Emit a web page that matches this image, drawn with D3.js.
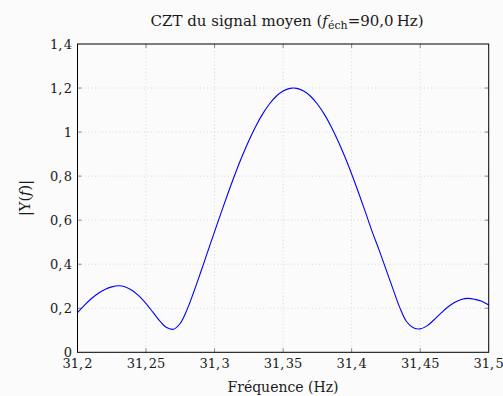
<!DOCTYPE html>
<html><head><meta charset="utf-8">
<script src="https://cdn.jsdelivr.net/npm/d3@7"></script>
<style>
html,body{margin:0;padding:0;background:#fbfbfb;}
svg{display:block;}
text{font-family:"DejaVu Serif","Liberation Serif",serif;fill:#1a1a1a;}
</style></head><body>
<svg id="c" width="503" height="396"></svg>
<script>
const freqs = [31.200,31.205,31.210,31.215,31.220,31.225,31.230,31.235,31.240,31.245,
31.250,31.255,31.260,31.265,31.270,31.275,31.280,31.285,31.290,31.295,
31.300,31.305,31.310,31.315,31.320,31.325,31.330,31.335,31.340,31.345,
31.350,31.355,31.360,31.365,31.370,31.375,31.380,31.385,31.390,31.395,
31.400,31.405,31.410,31.415,31.420,31.425,31.430,31.435,31.440,31.445,
31.450,31.455,31.460,31.465,31.470,31.475,31.480,31.485,31.490,31.495,31.500];
const magnitudes = [0.180,0.213,0.243,0.267,0.285,0.297,0.302,0.2965,0.2805,0.2548,
0.221,0.1822,0.1427,0.1123,0.105,0.132,0.195,0.277,0.366,0.4569,
0.5478,0.6378,0.7255,0.8097,0.8888,0.9611,1.0259,1.0814,1.1275,1.1627,
1.1865,1.1985,1.1985,1.1865,1.1627,1.1275,1.0814,1.0259,0.9611,0.8888,
0.8097,0.7255,0.6378,0.5478,0.465,0.378,0.290,0.205,0.140,0.112,
0.1064,0.120,0.1466,0.1766,0.2044,0.2262,0.2401,0.245,0.2405,0.232,0.215];
const xTicks = [31.2,31.25,31.3,31.35,31.4,31.45,31.5];
const yTicks = [0,0.2,0.4,0.6,0.8,1,1.2,1.4];
const titleMain = "CZT du signal moyen (";
const titleF = "f";
const titleSub = "éch";
const titleEnd = "=90,0\u2009Hz)";
const xLabel = "Fréquence (Hz)";
const yLabelParts = ["|Y(", "f", ")|"];

const L=77.5, R=488.7, T=44, B=352.3;
const svg = d3.select("#c");
const x = d3.scaleLinear().domain([31.2,31.5]).range([L,R]);
const y = d3.scaleLinear().domain([0,1.4]).range([B,T]);
const fmt = v => String(+v.toFixed(2)).replace(".", ",\u200A");

const g = svg.append("g");
// grid
g.selectAll(".gx").data(xTicks.slice(1,-1)).enter().append("line")
 .attr("x1",d=>x(d)).attr("x2",d=>x(d)).attr("y1",T).attr("y2",B)
 .attr("stroke","#d0d0d0").attr("stroke-width",0.8).attr("stroke-dasharray","1,2.5");
g.selectAll(".gy").data(yTicks.slice(1,-1)).enter().append("line")
 .attr("y1",d=>y(d)).attr("y2",d=>y(d)).attr("x1",L).attr("x2",R)
 .attr("stroke","#d0d0d0").attr("stroke-width",0.8).attr("stroke-dasharray","1,2.5");

// inward ticks
const tk = 4;
xTicks.slice(1,-1).forEach(d=>{
  g.append("line").attr("x1",x(d)).attr("x2",x(d)).attr("y1",B).attr("y2",B-tk).attr("stroke","#888").attr("stroke-width",1);
  g.append("line").attr("x1",x(d)).attr("x2",x(d)).attr("y1",T).attr("y2",T+tk).attr("stroke","#888").attr("stroke-width",1);
});
yTicks.slice(1,-1).forEach(d=>{
  g.append("line").attr("y1",y(d)).attr("y2",y(d)).attr("x1",L).attr("x2",L+tk).attr("stroke","#888").attr("stroke-width",1);
  g.append("line").attr("y1",y(d)).attr("y2",y(d)).attr("x1",R).attr("x2",R-tk).attr("stroke","#888").attr("stroke-width",1);
});

// curve
const pts = freqs.map((f,i)=>[f,magnitudes[i]]);
g.append("path").datum(pts)
 .attr("d", d3.line().x(d=>x(d[0])).y(d=>y(d[1])).curve(d3.curveCatmullRom.alpha(0.5)))
 .attr("fill","none").attr("stroke","#0000ff").attr("stroke-width",1.1);

// frame
g.append("rect").attr("x",L).attr("y",T).attr("width",R-L).attr("height",B-T)
 .attr("fill","none").attr("stroke","#000").attr("stroke-width",1);

// tick labels
svg.selectAll(".xl").data(xTicks).enter().append("text")
 .attr("x",d=>x(d)).attr("y",368).attr("text-anchor","middle")
 .attr("font-size",13).text(fmt);
svg.selectAll(".yl").data(yTicks).enter().append("text")
 .attr("x",72).attr("y",d=>y(d)+4.5).attr("text-anchor","end")
 .attr("font-size",13).text(fmt);

// axis labels
svg.append("text").attr("x",283).attr("y",392).attr("text-anchor","middle")
 .attr("font-size",14).text(xLabel);
const yl = svg.append("text").attr("transform","translate(30,198) rotate(-90)").attr("text-anchor","middle")
 .attr("font-size",14.5);
yl.append("tspan").text(yLabelParts[0]);
yl.append("tspan").attr("font-style","italic").text(yLabelParts[1]);
yl.append("tspan").text(yLabelParts[2]);

// title
const t = svg.append("text").attr("x",287).attr("y",26).attr("text-anchor","middle").attr("font-size",15);
t.append("tspan").text(titleMain);
t.append("tspan").attr("font-style","italic").text(titleF);
t.append("tspan").attr("font-size",11).attr("dy",2.5).text(titleSub);
t.append("tspan").attr("dy",-2.5).text(titleEnd);
</script>
</body></html>
